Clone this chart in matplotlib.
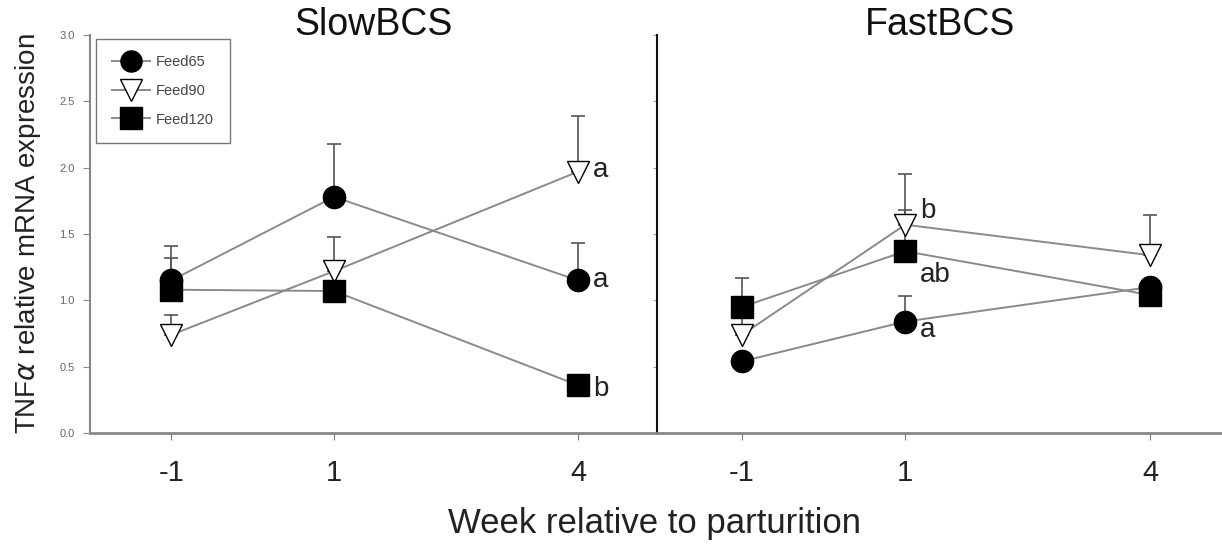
import numpy as np
import matplotlib.pyplot as plt

plt.rcParams['font.family'] = ['Liberation Sans', 'DejaVu Sans']

weeks = [-1, 1, 4]
groups = ['Feed65', 'Feed90', 'Feed120']

# SlowBCS means and upper SEM
slow_mean = {'Feed65': [1.15, 1.78, 1.15],
             'Feed90': [0.74, 1.22, 1.97],
             'Feed120': [1.08, 1.07, 0.36]}
slow_err = {'Feed65': [0.26, 0.40, 0.28],
            'Feed90': [0.15, 0.26, 0.42],
            'Feed120': [0.24, 0.23, 0.05]}

# FastBCS means and upper SEM
fast_mean = {'Feed65': [0.54, 0.84, 1.10],
             'Feed90': [0.74, 1.57, 1.34],
             'Feed120': [0.95, 1.37, 1.04]}
fast_err = {'Feed65': [0.05, 0.19, 0.05],
            'Feed90': [0.15, 0.38, 0.30],
            'Feed120': [0.22, 0.31, 0.05]}

slow_letters = [(4.18, 1.98, 'a'), (4.18, 1.15, 'a'), (4.18, 0.33, 'b')]
fast_letters = [(1.18, 1.67, 'b'), (1.18, 1.19, 'ab'), (1.18, 0.78, 'a')]

styles = {'Feed65': dict(marker='o', mfc='black', mec='black'),
          'Feed90': dict(marker='v', mfc='white', mec='black'),
          'Feed120': dict(marker='s', mfc='black', mec='black')}

fig = plt.figure(figsize=(12.22, 5.5), dpi=100)
ax1 = fig.add_axes([90/1222, 117/550, 567/1222, 398/550])
ax2 = fig.add_axes([657/1222, 117/550, 565/1222, 398/550])

line_col = '#8a8a8a'


def draw_panel(ax, means, errs, letters):
    for g in groups:
        m = np.array(means[g])
        e = np.array(errs[g])
        ax.errorbar(weeks, m, yerr=[np.zeros_like(e), e], fmt='none',
                    ecolor='#555555', elinewidth=1.2, capsize=5, capthick=1.2, zorder=2)
        ax.plot(weeks, m, color=line_col, lw=1.4, ms=16, mew=1.0,
                label=g, zorder=3, **styles[g])
    for x, y, t in letters:
        ax.text(x, y, t, fontsize=20, ha='left', va='center', color='#222222')
    ax.set_ylim(0, 3.0)
    ax.set_xticks(weeks)
    ax.set_xticklabels(['-1', '1', '4'], fontsize=21, color='#222222')
    ax.tick_params(axis='x', length=5, pad=14, color='#777777')
    for s in ['top', 'right']:
        ax.spines[s].set_visible(False)
    ax.spines['bottom'].set_color('#888888')
    ax.spines['bottom'].set_linewidth(2.0)


draw_panel(ax1, slow_mean, slow_err, slow_letters)
draw_panel(ax2, fast_mean, fast_err, fast_letters)

ax1.set_xlim(-2.0, 4.97)
ax2.set_xlim(-2.04, 4.88)

fig.text(374/1222, 1 - 25/550, 'SlowBCS', fontsize=27, ha='center', va='center', color='#111111')
fig.text(940/1222, 1 - 25/550, 'FastBCS', fontsize=27, ha='center', va='center', color='#111111')

ax1.set_yticks(np.arange(0, 3.01, 0.5))
ax1.set_yticklabels([f'{v:.1f}' for v in np.arange(0, 3.01, 0.5)], fontsize=8, color='#666666')
ax1.tick_params(axis='y', length=5, color='#888888', pad=6)
ax1.spines['left'].set_color('#888888')
ax1.spines['left'].set_linewidth(1.5)
ax1.set_ylabel(r'TNF$\alpha$ relative mRNA expression', fontsize=20, color='#222222', labelpad=12)

ax2.set_yticks(np.arange(0, 3.01, 0.5))
ax2.set_yticklabels([])
ax2.tick_params(axis='y', length=3, color='#999999')
ax2.spines['left'].set_color('#111111')
ax2.spines['left'].set_linewidth(1.5)

leg = ax1.legend(loc='upper left', bbox_to_anchor=(0.003, 1.0), fontsize=10.5,
                 handlelength=2.6, markerscale=0.95, frameon=True, fancybox=False,
                 borderpad=1.1, labelspacing=1.0, handletextpad=0.4, borderaxespad=0.3)
leg.get_frame().set_edgecolor('#555555')
leg.get_frame().set_linewidth(1.0)
for txt in leg.get_texts():
    txt.set_color('#444444')

fig.text(655/1222, 1 - 523/550, 'Week relative to parturition', fontsize=25,
         ha='center', va='center', color='#222222')

fig.savefig('out.png', dpi=100)
